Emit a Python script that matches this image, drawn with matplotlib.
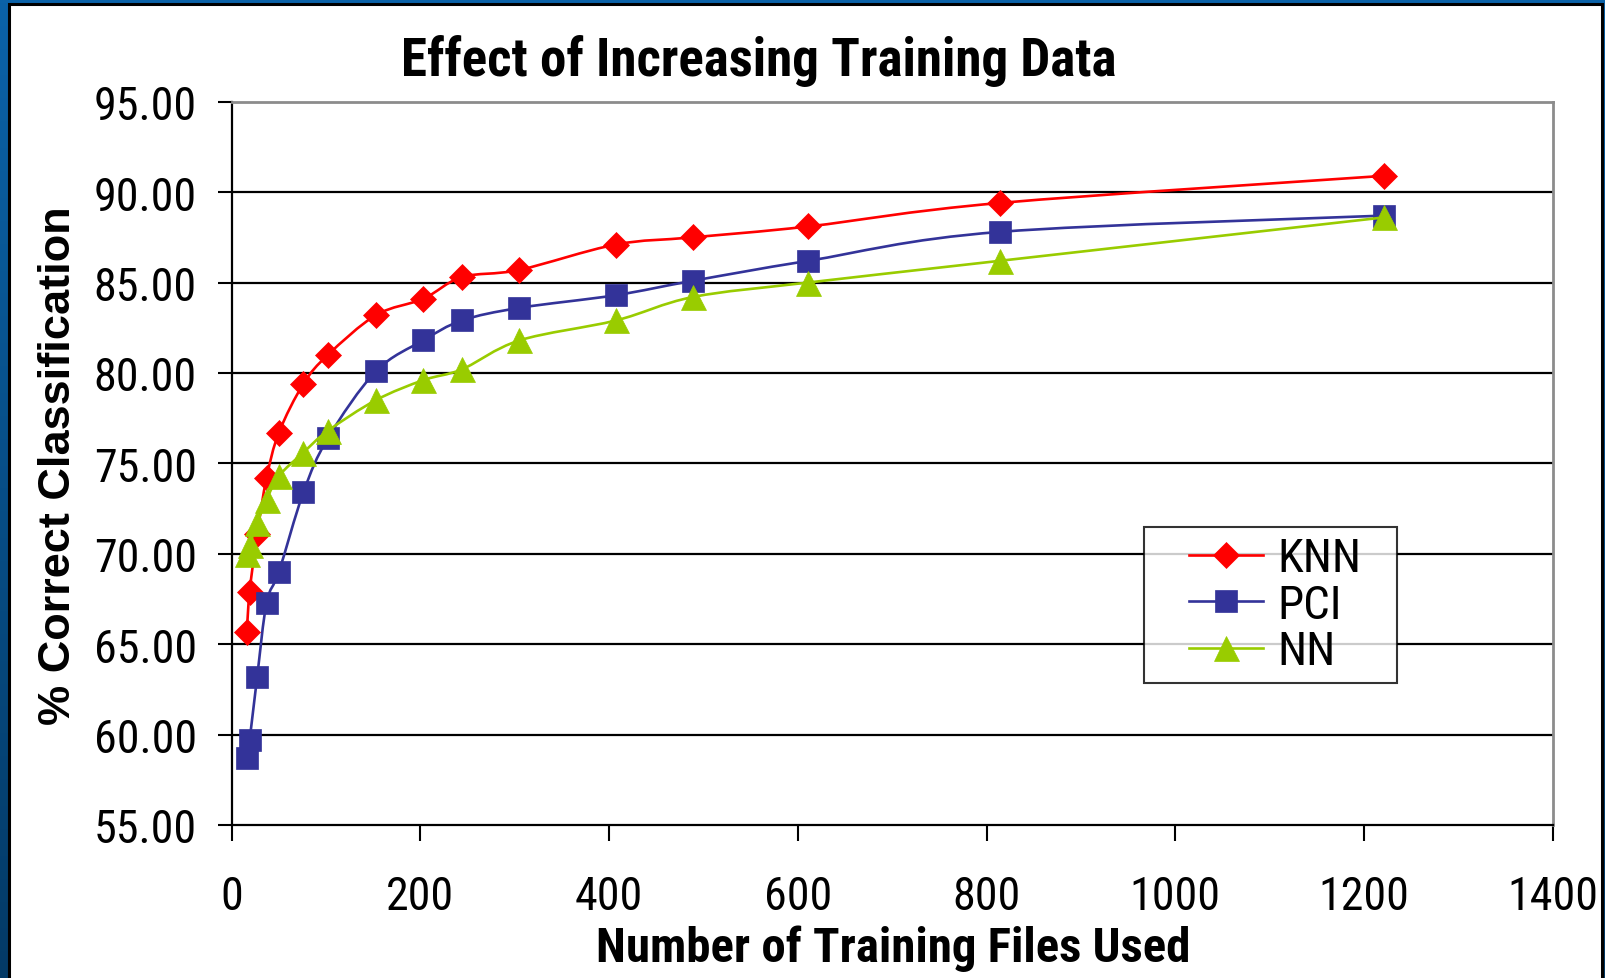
import numpy as np
import matplotlib
matplotlib.use("Agg")
import matplotlib.pyplot as plt
from matplotlib.path import Path
from matplotlib.patches import PathPatch, Rectangle
from matplotlib.lines import Line2D
from matplotlib.legend_handler import HandlerLine2D

# Training-set sizes and classification accuracy (%) for each method
files_used = [16, 19, 27, 37, 50, 76, 102, 153, 203, 244, 305, 407, 489, 611, 814, 1221]
knn = [65.7, 67.9, 71.1, 74.2, 76.7, 79.4, 81.0, 83.2, 84.1, 85.3, 85.7, 87.1, 87.5, 88.1, 89.4, 90.9]
pci = [58.7, 59.7, 63.2, 67.3, 69.0, 73.4, 76.4, 80.1, 81.8, 82.9, 83.6, 84.3, 85.1, 86.2, 87.8, 88.7]
nn = [70.0, 70.5, 71.7, 73.0, 74.3, 75.6, 76.8, 78.5, 79.6, 80.2, 81.8, 82.9, 84.2, 85.0, 86.2, 88.6]

series_names = ["KNN", "PCI", "NN"]
series_values = [knn, pci, nn]
series_colors = ["#FF0000", "#333399", "#99CC00"]
series_markers = ["D", "s", "^"]
series_msizes = [13, 15.5, 18]

x_ticks = [0, 200, 400, 600, 800, 1000, 1200, 1400]
y_ticks = [55, 60, 65, 70, 75, 80, 85, 90, 95]

title_text = "Effect of Increasing Training Data"
x_label = "Number of Training Files Used"
y_label = "% Correct Classification"

W, H, DPI = 1605, 979, 100
NARROW = ["Roboto Condensed", "PT Sans Narrow", "Liberation Sans", "DejaVu Sans"]
WIDE = ["Liberation Sans", "DejaVu Sans"]

fig = plt.figure(figsize=(W / DPI, H / DPI), dpi=DPI)
renderer = fig.canvas.get_renderer()


def fitted_size(text, target_px, family, weight="normal", base=40.0):
    """Font size at which `text` is `target_px` pixels wide."""
    t = fig.text(0, 0, text, fontsize=base, family=family, fontweight=weight)
    w = t.get_window_extent(renderer).width
    t.remove()
    return base * target_px / w


# blue frame behind the white chart area
bg = fig.add_axes([0, 0, 1, 1], zorder=-10)
grad = np.linspace(0, 1, 256).reshape(-1, 1)
cmap = matplotlib.colors.LinearSegmentedColormap.from_list("frame", ["#0b62a8", "#033a66"])
bg.imshow(grad, aspect="auto", cmap=cmap, extent=[0, 1, 0, 1], origin="upper")
bg.set_xlim(0, 1)
bg.set_ylim(0, 1)
bg.axis("off")
bg.add_patch(Rectangle((9 / W, -0.02), (1601.5 - 9) / W, 1.02 - 4.5 / H,
                       transform=fig.transFigure, facecolor="white",
                       edgecolor="black", linewidth=2.2, zorder=2))

ax = fig.add_axes([231.7 / W, 1 - 826 / H, (1552.7 - 231.7) / W, (826 - 102.7) / H])
ax.set_facecolor("white")
ax.set_xlim(0, 1400)
ax.set_ylim(55, 95)
ax.set_xticks(x_ticks)
ax.set_yticks(y_ticks)
ax.set_xticklabels([str(v) for v in x_ticks])
ax.set_yticklabels([f"{v:.2f}" for v in y_ticks])

tick_fs = fitted_size("95.00", 103, NARROW)
for lab in ax.get_xticklabels() + ax.get_yticklabels():
    lab.set_fontfamily(NARROW)
    lab.set_fontsize(tick_fs)
ax.tick_params(axis="y", direction="out", length=10, width=1.5, pad=15, color="black")
ax.tick_params(axis="x", direction="out", length=11.5, width=1.5, pad=24, color="black")

for y in y_ticks[1:-1]:
    ax.axhline(y, color="black", lw=1.6, zorder=1)
ax.spines["left"].set_color("black")
ax.spines["bottom"].set_color("black")
ax.spines["left"].set_linewidth(1.6)
ax.spines["bottom"].set_linewidth(1.6)
ax.spines["top"].set_color("#8c8c8c")
ax.spines["right"].set_color("#8c8c8c")
ax.spines["top"].set_linewidth(2.0)
ax.spines["right"].set_linewidth(2.0)


def smooth_path(axes, xs, ys):
    """Cubic Bezier through the points, built in display space (Excel-style smoothing)."""
    pts = axes.transData.transform(np.column_stack([xs, ys]))
    n = len(pts)
    verts = [pts[0]]
    codes = [Path.MOVETO]
    for i in range(n - 1):
        p0 = pts[i - 1] if i > 0 else pts[i]
        p1 = pts[i]
        p2 = pts[i + 1]
        p3 = pts[i + 2] if i + 2 < n else pts[i + 1]
        verts += [p1 + (p2 - p0) / 6.0, p2 - (p3 - p1) / 6.0, p2]
        codes += [Path.CURVE4] * 3
    verts = axes.transData.inverted().transform(np.array(verts))
    return Path(verts, codes)


handles = []
for k, (name, vals, col, mk, ms) in enumerate(zip(series_names, series_values,
                                                   series_colors, series_markers,
                                                   series_msizes)):
    z = 3 + 2 * k
    ax.add_patch(PathPatch(smooth_path(ax, files_used, vals), facecolor="none",
                           edgecolor=col, lw=1.9, zorder=z))
    ax.plot(files_used, vals, linestyle="none", marker=mk, ms=ms, color=col,
            mec=col, mew=0.5, zorder=z + 1, clip_on=False)
    handles.append(Line2D([], [], color=col, lw=1.9, marker=mk, ms=ms, mec=col,
                          mew=0.5, label=name))

leg_fs = fitted_size("KNN", 84, NARROW)
fs_px = leg_fs * DPI / 72
bp = 0.2
x0 = 1144
start = x0 + bp * fs_px
leg = ax.legend(handles=handles, loc="upper left",
                bbox_to_anchor=(x0 / W, 1 - 529 / H, (1397 - x0) / W, 0.001),
                bbox_transform=fig.transFigure, mode="expand",
                prop={"family": NARROW, "size": leg_fs},
                frameon=True, fancybox=False, shadow=False,
                borderpad=bp, labelspacing=0.05, borderaxespad=0,
                handlelength=(1263 - start) / fs_px, handletextpad=0.3,
                handler_map={Line2D: HandlerLine2D(numpoints=1, xpad=(1189 - start) / fs_px)})
leg.get_frame().set_edgecolor("black")
leg.get_frame().set_linewidth(1.5)
leg.set_zorder(20)

title_fs = fitted_size(title_text, 715, NARROW, "bold")
xlab_fs = fitted_size(x_label, 594, NARROW, "bold")
ylab_fs = fitted_size(y_label, 518, WIDE, "bold")

fig.text(758.5 / W, 1 - 76 / H, title_text, ha="center", va="baseline",
         fontsize=title_fs, fontweight="bold", family=NARROW)
fig.text(893 / W, 1 - 962 / H, x_label, ha="center", va="baseline",
         fontsize=xlab_fs, fontweight="bold", family=NARROW)
fig.text(70 / W, 1 - 466 / H, y_label, ha="center", va="baseline",
         rotation=90, rotation_mode="anchor",
         fontsize=ylab_fs, fontweight="bold", family=WIDE)

fig.savefig("out.png", dpi=DPI)
